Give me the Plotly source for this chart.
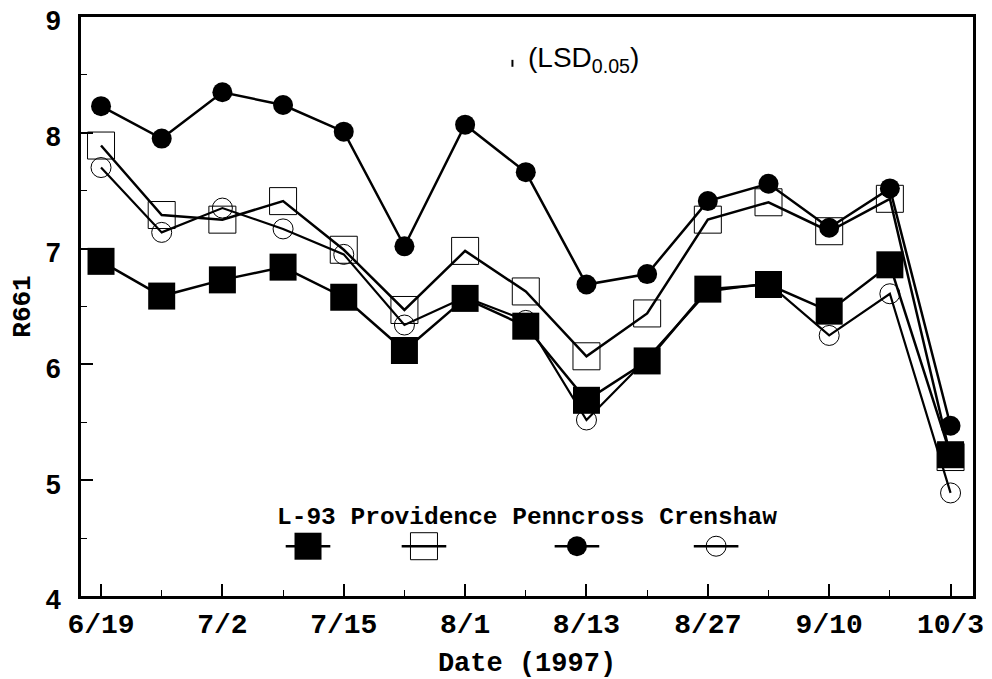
import plotly.graph_objects as go

# ---- data ----
date_index = list(range(15))
tick_index = [0, 2, 4, 6, 8, 10, 12, 14]
tick_labels = ["6/19", "7/2", "7/15", "8/1", "8/13", "8/27", "9/10", "10/3"]

l93 = [6.89, 6.59, 6.73, 6.84, 6.58, 6.12, 6.57, 6.33, 5.69, 6.03, 6.65, 6.69, 6.46, 6.86, 5.22]
providence = [7.89, 7.29, 7.25, 7.41, 6.99, 6.47, 6.98, 6.63, 6.07, 6.44, 7.25, 7.40, 7.15, 7.43, 5.20]
penncross = [8.23, 7.95, 8.35, 8.24, 8.01, 7.02, 8.07, 7.66, 6.69, 6.78, 7.41, 7.56, 7.18, 7.52, 5.47]
crenshaw = [7.70, 7.14, 7.35, 7.17, 6.95, 6.34, 6.58, 6.38, 5.52, 6.05, 6.63, 6.70, 6.25, 6.61, 4.89]

lsd_value = 0.06
series_names = ["L-93", "Providence", "Penncross", "Crenshaw"]

# ---- styles ----
mono = "Liberation Mono, Courier New, monospace"
sans = "Liberation Sans, Arial, sans-serif"
styles = {
    "L-93": dict(symbol="square", size=27, color="black", lw=0, lwidth=2.5),
    "Providence": dict(symbol="square-open", size=27, color="black", lw=1, lwidth=2.5),
    "Penncross": dict(symbol="circle", size=20, color="black", lw=0, lwidth=2.5),
    "Crenshaw": dict(symbol="circle-open", size=20, color="black", lw=1, lwidth=2.2),
}
values = {"L-93": l93, "Providence": providence, "Penncross": penncross, "Crenshaw": crenshaw}

fig = go.Figure()
for name in ["Providence", "Crenshaw", "L-93", "Penncross"]:
    s = styles[name]
    fig.add_trace(go.Scatter(
        x=date_index, y=values[name], mode="lines+markers", name=name,
        line=dict(color="black", width=s["lwidth"]),
        marker=dict(symbol=s["symbol"], size=s["size"], color=s["color"],
                    line=dict(color="black", width=s["lw"])),
        showlegend=False, cliponaxis=False,
    ))

# LSD bar
fig.add_trace(go.Scatter(
    x=[6.78], y=[8.60], mode="markers",
    marker=dict(size=1, color="rgba(0,0,0,0)"),
    error_y=dict(type="constant", value=lsd_value / 2, color="black", thickness=2, width=0),
    showlegend=False,
))
fig.add_annotation(x=7.0, y=8.63, xref="x", yref="y", xanchor="left", yanchor="middle",
                   text="(LSD<sub>0.05</sub>)", showarrow=False,
                   font=dict(family=sans, size=28, color="black"))

# ---- custom legend on hidden overlay axes ----
legend_x = [0.2545, 0.3845, 0.5560, 0.7120]
legend_y = 0.086
half = 0.025
for name, cx in zip(series_names, legend_x):
    s = styles[name]
    fig.add_trace(go.Scatter(
        x=[cx - half, cx, cx + half], y=[legend_y] * 3, mode="lines",
        line=dict(color="black", width=2.5), xaxis="x2", yaxis="y2", showlegend=False,
    ))
    fig.add_trace(go.Scatter(
        x=[cx], y=[legend_y], mode="markers",
        marker=dict(symbol=s["symbol"], size=s["size"], color="black",
                    line=dict(color="black", width=s["lw"])),
        xaxis="x2", yaxis="y2", showlegend=False,
    ))
fig.add_annotation(x=0.5, y=0.136, xref="paper", yref="paper", xanchor="center", yanchor="middle",
                   text="<b>" + " ".join(series_names) + "</b>", showarrow=False,
                   font=dict(family=mono, size=24.5, color="black"))

# page body adds an 8px offset, so the figure is 8px smaller and left/top margins shifted
fig.update_layout(
    width=984, height=671,
    margin=dict(l=73, r=19, t=9, b=83),
    paper_bgcolor="white", plot_bgcolor="white",
    xaxis=dict(
        range=[-0.33, 14.37], tickmode="array", tickvals=tick_index, ticktext=tick_labels,
        ticks="inside", ticklen=12, tickwidth=1.5, tickcolor="black",
        minor=dict(tickmode="linear", tick0=0, dtick=1, ticks="inside", ticklen=6,
                   tickwidth=1.2, tickcolor="black"),
        showgrid=False, zeroline=False, automargin=False, ticklabeloverflow="allow",
        showline=True, linecolor="black", linewidth=2.5, mirror=True,
        tickfont=dict(family=mono, size=28, color="black", weight="bold"),
        ticklabelstandoff=1,
        title=dict(text="<b>Date (1997)</b>", font=dict(family=mono, size=27, color="black"), standoff=12),
    ),
    yaxis=dict(
        range=[4, 9], tickmode="linear", tick0=4, dtick=1,
        ticks="inside", ticklen=12, tickwidth=1.5, tickcolor="black",
        minor=dict(tickmode="linear", tick0=4, dtick=0.5, ticks="inside", ticklen=6,
                   tickwidth=1.2, tickcolor="black"),
        showgrid=False, zeroline=False, automargin=False, ticklabeloverflow="allow",
        showline=True, linecolor="black", linewidth=2.5, mirror=True,
        tickfont=dict(family=sans, size=27, color="black", weight="bold"),
        ticklabelstandoff=12, ticklabelshift=4,
        title=dict(text="<b>R661</b>", font=dict(family=mono, size=26, color="black"), standoff=8),
    ),
    xaxis2=dict(overlaying="x", range=[0, 1], visible=False),
    yaxis2=dict(overlaying="y", range=[0, 1], visible=False),
)

fig.write_html("out.html")
